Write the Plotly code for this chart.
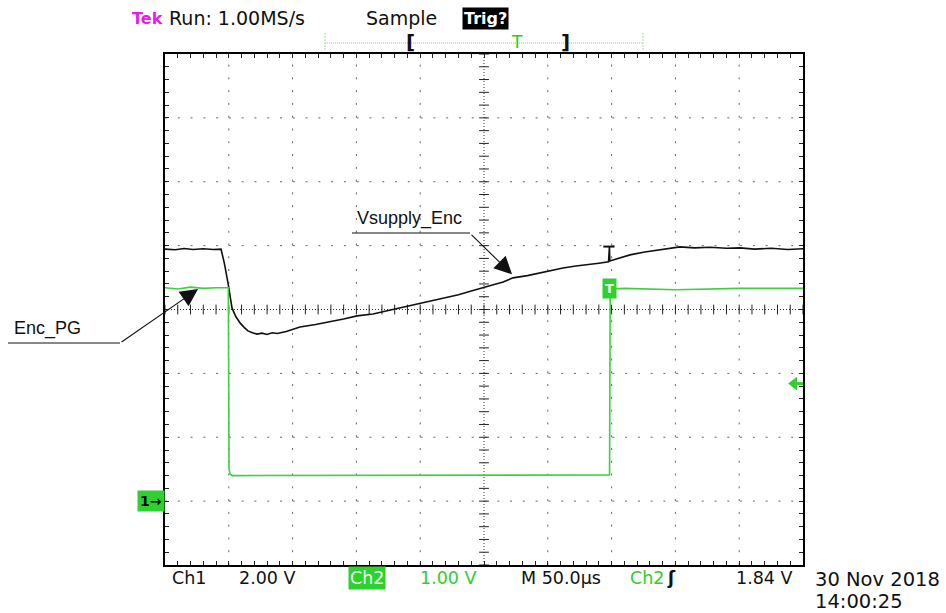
import numpy as np
import plotly.graph_objects as go

# ---------------- data (time in microseconds, volts) ----------------
t1 = [0, 8, 15, 22, 30, 38, 43.9, 46.5, 49.5, 52.5, 55.5, 58.8, 62, 65, 68.5, 72.1, 76,
      80, 84, 88, 95, 105.8, 118, 130, 140, 150.5, 163, 175, 190, 205.3, 218, 230,
      240, 249.2, 258, 265, 272.7, 284, 296, 311.9, 322, 332, 340, 347.6, 347.9, 348.3,
      348.6, 356, 364.4, 376, 390.3, 403.6, 415, 427, 440, 450.6, 462, 475, 488, 500]
ch1_v = [7.89, 7.87, 7.91, 7.88, 7.90, 7.88, 7.89, 7.45, 6.80, 6.05, 5.78, 5.58, 5.44,
         5.33, 5.27, 5.23, 5.26, 5.22, 5.27, 5.25, 5.31, 5.45, 5.53, 5.61, 5.70, 5.80,
         5.86, 5.97, 6.10, 6.23, 6.35, 6.46, 6.58, 6.67, 6.78, 6.86, 6.99, 7.06, 7.17,
         7.30, 7.36, 7.40, 7.45, 7.49, 7.97, 7.97, 7.52, 7.62, 7.71, 7.80, 7.89, 7.96,
         7.93, 7.95, 7.92, 7.93, 7.89, 7.92, 7.88, 7.90]

t2 = [0, 10, 20, 30, 40, 49.6, 50.2, 51, 53, 56, 150, 240, 300, 348.4, 348.9, 360, 400, 450, 500]
ch2_v = [3.34, 3.32, 3.35, 3.33, 3.34, 3.34, 0.50, 0.42, 0.40, 0.40, 0.40, 0.40, 0.40,
         0.41, 3.32, 3.33, 3.31, 3.33, 3.33]

trig_time = 348.7      # us
trig_level = 1.84      # V on Ch2
ch1_ground = 0.0       # V
glitch_idx = 44        # Ch1 marker "I" at trigger point

# scope settings
time_per_div = 50.0    # us
ch1_per_div = 2.0      # V
ch2_per_div = 1.0      # V
n_xdiv, n_ydiv = 10, 8
ground_div = -3        # both channels' ground marker, divisions from centre

ch1_range = [(-4 - ground_div) * ch1_per_div, (4 - ground_div) * ch1_per_div]   # [-2, 14]
ch2_range = [(-4 - ground_div) * ch2_per_div, (4 - ground_div) * ch2_per_div]   # [-1, 7]
x_range = [0, n_xdiv * time_per_div]

# ---------------- figure geometry ----------------
W, H = 946, 613
L, R, T, B = 165, 143, 54, 48
PW, PH = W - L - R, H - T - B


def px(x):
    return (x - L) / PW


def py(y):
    return (H - B - y) / PH


BLACK = "#111111"
GREEN = "#3fcf3f"
BOXGREEN = "#2fd02f"

fig = go.Figure()

# grid (dotted) lines
shapes = []
dot_period = PH / n_ydiv / 5
for i in range(1, n_xdiv):
    xv = i * time_per_div
    center = (i == n_xdiv // 2)
    shapes.append(dict(type="line", xref="x", yref="paper", x0=xv, x1=xv, y0=0, y1=1,
                       line=dict(color="#333" if center else "#666", width=1,
                                 dash="1px,2px" if center else f"2px,{dot_period - 2:.2f}px"),
                       layer="below"))
for j in range(1, n_ydiv):
    yv = ch1_range[0] + j * ch1_per_div
    center = (j == n_ydiv // 2)
    shapes.append(dict(type="line", xref="paper", yref="y", x0=0, x1=1, y0=yv, y1=yv,
                       line=dict(color="#333" if center else "#666", width=1,
                                 dash="1px,2px" if center else f"2px,{dot_period - 2:.2f}px"),
                       layer="below"))

# centre-line tick marks
xc = np.arange(x_range[0], x_range[1] + 0.01, time_per_div / 5)
yc_val = (ch1_range[0] + ch1_range[1]) / 2
fig.add_trace(go.Scatter(x=xc, y=[yc_val] * len(xc), mode="markers", hoverinfo="skip",
                         marker=dict(symbol="line-ns", size=7, line=dict(width=1, color="#222")),
                         showlegend=False))
yc = np.arange(ch1_range[0], ch1_range[1] + 0.01, ch1_per_div / 5)
xc_val = (x_range[0] + x_range[1]) / 2
fig.add_trace(go.Scatter(x=[xc_val] * len(yc), y=yc, mode="markers", hoverinfo="skip",
                         marker=dict(symbol="line-ew", size=7, line=dict(width=1, color="#222")),
                         showlegend=False))

# signals
fig.add_trace(go.Scatter(x=t1, y=ch1_v, mode="lines", line=dict(color=BLACK, width=1.6),
                         name="Ch1", showlegend=False))
fig.add_trace(go.Scatter(x=[t1[glitch_idx]], y=[ch1_v[glitch_idx]], mode="markers",
                         marker=dict(symbol="line-ew", size=8, line=dict(width=2, color=BLACK)),
                         hoverinfo="skip", showlegend=False))
fig.add_trace(go.Scatter(x=t2, y=ch2_v, mode="lines", line=dict(color=GREEN, width=1.6),
                         name="Ch2", yaxis="y2", showlegend=False))

# trigger level arrow on right edge
fig.add_trace(go.Scatter(x=[x_range[1] - 7], y=[trig_level], mode="markers", yaxis="y2",
                         marker=dict(symbol="triangle-left", size=12, color=BOXGREEN),
                         hoverinfo="skip", showlegend=False))
shapes.append(dict(type="line", xref="x", yref="y2", x0=x_range[1] - 6, x1=x_range[1],
                   y0=trig_level, y1=trig_level, line=dict(color=BOXGREEN, width=3)))

# callout underlines
shapes.append(dict(type="line", xref="paper", yref="paper", x0=px(352), x1=px(470),
                   y0=py(233), y1=py(233), line=dict(color=BLACK, width=1)))
shapes.append(dict(type="line", xref="paper", yref="paper", x0=px(8), x1=px(120),
                   y0=py(343), y1=py(343), line=dict(color=BLACK, width=1)))

# top record bar
shapes.append(dict(type="line", xref="paper", yref="paper", x0=px(325), x1=px(643),
                   y0=py(43), y1=py(43), line=dict(color="#7fd87f", width=1, dash="1px,1px")))
for xe in (325, 643):
    shapes.append(dict(type="line", xref="paper", yref="paper", x0=px(xe), x1=px(xe),
                       y0=py(33), y1=py(50), line=dict(color="#9be29b", width=1, dash="2px,1px")))

ann = []
SANS = "DejaVu Sans, Verdana, sans-serif"
ARIAL = "Liberation Sans, Arial, sans-serif"


def text(x, y, s, color=BLACK, size=17, font=SANS, xanchor="left", **kw):
    ann.append(dict(xref="paper", yref="paper", x=px(x), y=py(y), text=s, showarrow=False,
                    xanchor=xanchor, yanchor="middle", font=dict(family=font, size=size, color=color),
                    **kw))


# header
text(130, 18, "<b>Tek</b>", color="#e51ee5", size=16)
text(167, 18, "Run: 1.00MS/s", size=19)
text(364, 18, "Sample", size=19)
text(462, 18.5, "<b>Trig?</b>", color="white", size=16, bgcolor="black", borderpad=1)
text(404, 42, "<b>[</b>", size=20)
text(517, 42, "T", color="#22cc22", size=17, xanchor="center")
text(565, 42, "<b>]</b>", size=20, xanchor="center")

# footer
text(170, 578, "Ch1", size=17.5)
text(237, 578, "2.00 V", size=17.5)
text(348, 578, "Ch2", color="#eaffea", size=17.5, bgcolor=BOXGREEN, borderpad=1)
text(418, 578, "1.00 V", color="#33cc33", size=17.5)
text(519, 578, "M 50.0µs", size=17.5)
text(628, 578, "Ch2", color="#33cc33", size=17.5)
text(665, 578, "<b>ʃ</b>", size=17)
text(734, 578, "1.84 V", size=17.5)
text(813, 579, "30 Nov 2018", size=19.5)
text(813, 601, "14:00:25", size=19.5)

# ground marker and trigger marker boxes
ann.append(dict(xref="paper", yref="y", x=px(151), y=ch1_ground, text="<b>1→</b>",
                showarrow=False, xanchor="center", yanchor="middle", bgcolor=BOXGREEN,
                font=dict(family=SANS, size=14, color="black"), borderpad=2))
ann.append(dict(xref="x", yref="y2", x=trig_time, y=ch2_v[-1], text="<b>T</b>",
                showarrow=False, xanchor="center", yanchor="middle", bgcolor=BOXGREEN,
                font=dict(family=SANS, size=13, color="#eaffea"), borderpad=2))

# callout labels
text(355, 218, "Vsupply_Enc", size=18, font=ARIAL)
text(12, 328, "Enc_PG", size=18, font=ARIAL)
ann.append(dict(xref="x", yref="y", x=272, y=7.1, ax=-42, ay=-41, text="", showarrow=True,
                arrowhead=2, arrowsize=3.2, arrowwidth=1.1, arrowcolor=BLACK, standoff=0))
ann.append(dict(xref="x", yref="y2", x=25.9, y=3.32, ax=-78, ay=54, text="", showarrow=True,
                arrowhead=2, arrowsize=3.2, arrowwidth=1.1, arrowcolor=BLACK, standoff=0))

axis_common = dict(showgrid=False, zeroline=False, showline=True, linecolor="black", linewidth=2,
                   mirror="ticks", ticks="inside", ticklen=4, tickwidth=1, tickcolor="#222",
                   showticklabels=False, fixedrange=True)

fig.update_layout(
    width=W, height=H, margin=dict(l=L, r=R, t=T, b=B),
    paper_bgcolor="white", plot_bgcolor="white",
    xaxis=dict(range=x_range, dtick=time_per_div / 5, tick0=0, **axis_common),
    yaxis=dict(range=ch1_range, dtick=ch1_per_div / 5, tick0=ch1_range[0], **axis_common),
    yaxis2=dict(range=ch2_range, overlaying="y", visible=False, fixedrange=True),
    shapes=shapes, annotations=ann, showlegend=False,
)

fig.write_html("out.html")
